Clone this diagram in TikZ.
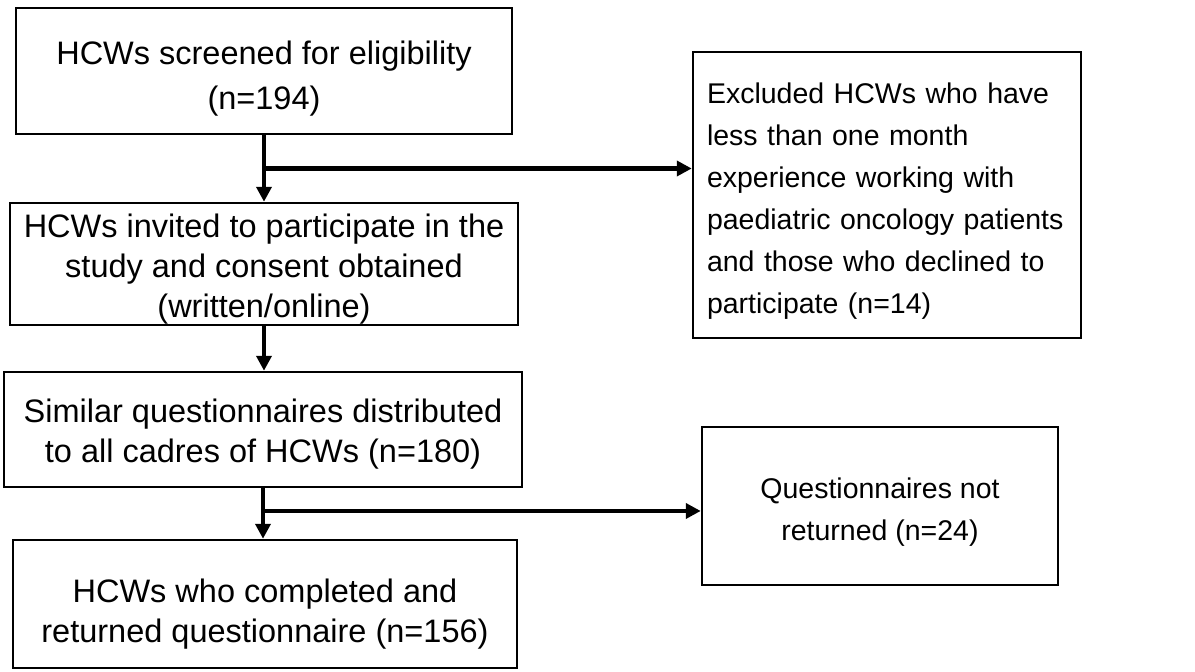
\documentclass[tikz,border=0pt]{standalone}
\usepackage{fontspec}
\setmainfont{Liberation Sans}
\usetikzlibrary{arrows.meta}

% invisible strut that pushes a node's text down
\newcommand{\toppad}[1]{\rule{0pt}{#1}}

\begin{document}
\begin{tikzpicture}
  [x=1pt, y=-1pt,
   box/.style={draw, line width=2.5pt, align=center, inner sep=0pt,
     font=\fontsize{32.5}{40}\selectfont},
   sidebox/.style={box, font=\fontsize{28.5}{42}\selectfont},
   flow/.style={line width=4.5pt, -{Triangle[length=15pt, width=15pt]}},
  ]
  \useasboundingbox (0,0) rectangle (1195,672);

  % main column
  \node[box, minimum width=496pt, minimum height=126pt,
        font=\fontsize{32.5}{45}\selectfont] (screened) at (264,71)
       {\toppad{38pt}HCWs screened for eligibility\\(n=194)};
  \node[box, minimum width=508pt, minimum height=122pt] (invited) at (264,264)
       {\toppad{34pt}HCWs invited to participate in the\\study and consent obtained\\(written/online)};
  \node[box, minimum width=518pt, minimum height=115pt] (similar) at (263,429.5)
       {\toppad{32pt}Similar questionnaires distributed\\to all cadres of HCWs (n=180)};
  \node[box, minimum width=504pt, minimum height=128pt] (completed) at (265,604)
       {\toppad{44pt}HCWs who completed and\\returned questionnaire (n=156)};

  % side boxes
  \node[sidebox, align=left, text width=360pt, inner xsep=14pt,
        minimum height=286pt] (excluded) at (887,195)
       {\toppad{33pt}Excluded HCWs who have\\less than one month\\experience working with\\paediatric oncology patients\\and those who declined to\\participate (n=14)};
  \node[sidebox, minimum width=356pt, minimum height=158pt] (notreturned) at (880,506)
       {\toppad{33pt}Questionnaires not\\returned (n=24)};

  % connectors
  \path (screened.south) -- coordinate[pos=0.5] (split1) (invited.north);
  \path (similar.south) -- coordinate[pos=0.45] (split2) (completed.north);
  \draw[flow] (screened.south) -- (invited.north);
  \draw[flow] (split1) -- (split1 -| excluded.west);
  \draw[flow] (invited.south) -- (invited.south |- similar.north);
  \draw[flow] (similar.south) -- (similar.south |- completed.north);
  \draw[flow] (split2) -- (split2 -| notreturned.west);
\end{tikzpicture}
\end{document}
